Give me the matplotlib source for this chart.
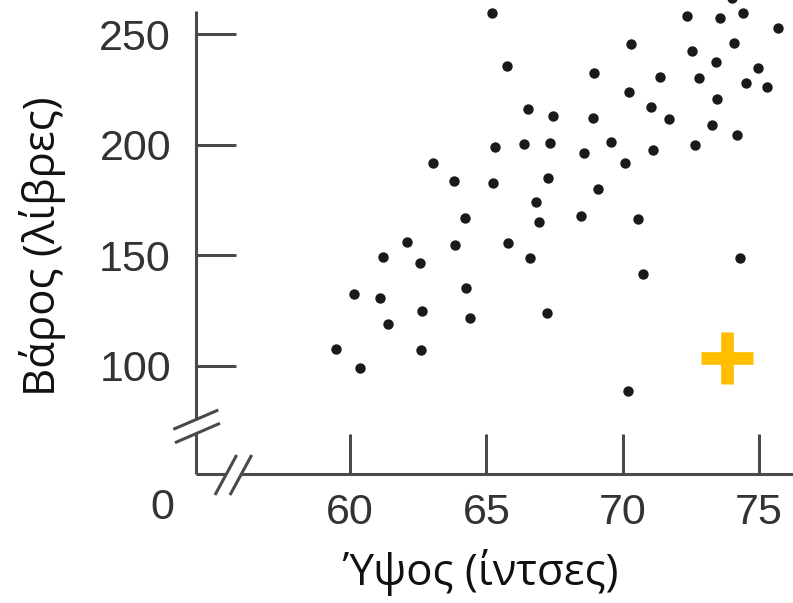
import matplotlib
matplotlib.use("Agg")
import matplotlib.pyplot as plt
from matplotlib.lines import Line2D

# height (inches) and weight (pounds)
heights = [65.19, 65.32, 63.05, 63.82, 65.25, 64.22, 62.08, 63.86, 65.75, 72.35,
           73.57, 74.40, 74.02, 75.71, 70.29, 72.53, 74.10, 73.42, 74.95, 68.96,
           71.37, 72.79, 74.52, 75.28, 70.22, 73.48, 66.54, 67.46, 68.91, 71.03,
           71.70, 73.27, 74.20, 66.37, 67.32, 69.58, 68.58, 71.10, 72.64, 70.10,
           67.26, 69.09, 66.82, 66.93, 68.47, 70.56, 65.78, 61.22, 62.57, 60.15,
           61.10, 64.24, 62.64, 64.40, 61.38, 59.48, 62.61, 60.37, 66.60, 70.73,
           74.31, 67.24, 70.18]
weights = [259.5, 198.8, 191.9, 183.7, 182.8, 167.1, 156.2, 154.7, 235.7, 258.4,
           257.3, 259.5, 266.4, 252.7, 245.5, 242.5, 245.9, 237.5, 234.8, 232.5,
           230.6, 230.1, 228.0, 226.3, 223.8, 220.6, 216.4, 213.1, 212.2, 217.3,
           211.7, 208.9, 204.3, 200.5, 201.0, 201.2, 196.5, 197.6, 199.8, 191.9,
           184.9, 179.9, 174.0, 165.3, 168.0, 166.6, 155.5, 149.2, 146.4, 132.6,
           130.6, 135.3, 124.9, 121.6, 119.1, 107.8, 107.2, 99.1, 148.7, 141.5,
           148.7, 123.8, 88.7]

# the highlighted point
new_height = [73.84]
new_weight = [103.5]

x_ticks = [60, 65, 70, 75]
y_ticks = [100, 150, 200, 250]

W, H = 793, 603
axis_color = "#4a4a4a"
text_color = "#333333"


def px(x, y):
    # pixel position (from top-left) to figure fraction
    return x / W, 1 - y / H


fig = plt.figure(figsize=(W / 100, H / 100), dpi=100)
ax = fig.add_axes([196 / W, (H - 474) / H, (W - 196) / W, 474 / H])
ax.set_xlim(54.35, 76.25)
ax.set_ylim(51.15, 265.5)
for s in ax.spines.values():
    s.set_visible(False)

ax.scatter(heights, weights, s=56, color="#1a1a1a", linewidths=0, zorder=3)
ax.plot(new_height, new_weight, linestyle="none", marker="+", markersize=38,
        markeredgewidth=9.1, color="#FFBE00", zorder=4)

ax.set_xticks(x_ticks)
ax.set_yticks(y_ticks)
ax.tick_params(direction="in", length=28.8, width=2.16, color=axis_color,
               labelcolor=text_color, labelsize=31)
ax.tick_params(axis="y", pad=18)
ax.tick_params(axis="x", pad=13.5)
for lab in ax.get_xticklabels() + ax.get_yticklabels():
    lab.set_family("Liberation Sans")

# axis lines with breaks
lw = 2.2
segments = [
    [(196, 11), (196, 419.3)],
    [(196, 433.3), (196, 474)],
    [(196, 474), (226.4, 474)],
    [(241.4, 474), (W, 474)],
    [(173.3, 429.3), (218.3, 410)],
    [(175, 442.7), (220, 423.3)],
    [(215, 495), (236.7, 455)],
    [(230, 495), (251.7, 455)],
]
for (x0, y0), (x1, y1) in segments:
    a, b = px(x0, y0), px(x1, y1)
    fig.add_artist(Line2D([a[0], b[0]], [a[1], b[1]], color=axis_color,
                          linewidth=lw, solid_capstyle="butt"))

fig.text(*px(162, 508), "0", ha="center", va="center", fontsize=31,
         color=text_color, family="Liberation Sans")

fig.text(*px(480, 572), "Ύψος (ίντσες)", ha="center", va="center",
         fontsize=31.5, color="#111111", family="Open Sans")
fig.text(*px(43, 246), "Βάρος (λίβρες)", ha="center", va="center",
         rotation=90, fontsize=31.5, color="#111111", family="Open Sans")

fig.savefig("out.png", dpi=100)
